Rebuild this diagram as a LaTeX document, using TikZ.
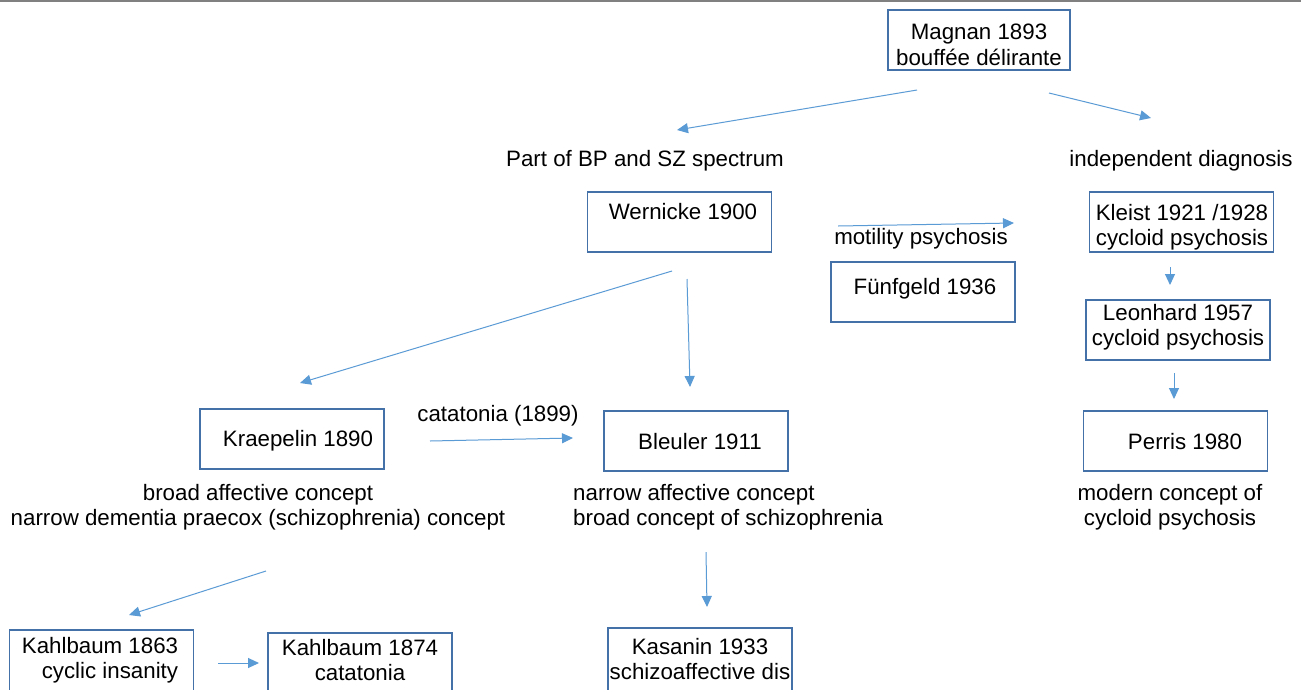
\documentclass[tikz,border=0pt]{standalone}
\usepackage{fontspec}
\setmainfont{Liberation Sans}
\usetikzlibrary{arrows.meta}
\definecolor{boxc}{HTML}{4472A8}
\definecolor{arrc}{HTML}{5B9BD5}
\begin{document}
\begin{tikzpicture}[x=1pt,y=-1pt,
  box/.style={draw=boxc,line width=1.4pt,minimum width=184pt,minimum height=60pt,inner sep=0pt},
  txt/.style={font=\fontsize{22.3}{25.5}\selectfont,inner sep=0pt,align=center},
  arr/.style={draw=arrc,line width=1pt,-{Triangle[length=11pt,width=10pt]}}]
\useasboundingbox (0,0) rectangle (1301,689);
\clip (0,0) rectangle (1301,689);
\fill[white] (0,0) rectangle (1301,689);
\draw[gray,line width=1.2pt] (0,1) -- (1301,1);
% boxes
\node[box,minimum width=182pt] (magnan) at (979,40) {};
\node[box] (wernicke) at (679.5,222) {};
\node[box] (fuenf) at (923,292) {};
\node[box] (kleist) at (1181.5,222) {};
\node[box] (leon) at (1178,330) {};
\node[box] (perris) at (1175.5,441) {};
\node[box] (kraep) at (292,439) {};
\node[box] (bleuler) at (696,441) {};
\node[box,minimum height=80pt] (kahl63) at (101.5,670) {};
\node[box,minimum height=80pt] (kahl74) at (360,673) {};
\node[box,minimum height=80pt] (kasanin) at (700,668) {};
% texts
\node[txt] (tmagnan) at (979,45) {Magnan 1893\\bouff\'ee d\'elirante};
\node[txt] (twern) at (683,212) {Wernicke 1900};
\node[txt] (tfuenf) at (925,289) {F\"unfgeld 1936};
\node[txt] (tkleist) at (1182,227) {Kleist 1921 /1928\\cycloid psychosis};
\node[txt] (tleon) at (1178,327) {Leonhard 1957\\cycloid psychosis};
\node[txt] (tperris) at (1185,442) {Perris 1980};
\node[txt] (tkraep) at (298,441) {Kraepelin 1890};
\node[txt] (tbleu) at (700,442) {Bleuler 1911};
\node[txt,align=right] (tkahl63) at (100,660) {Kahlbaum 1863\\cyclic insanity};
\node[txt] (tkahl74) at (360,660) {Kahlbaum 1874\\catatonia};
\node[txt] (tkas) at (700,659) {Kasanin 1933\\schizoaffective dis};
\node[txt] (part) at (645,161) {Part of BP and SZ spectrum};
\node[txt] (indep) at (1181,161) {independent diagnosis};
\node[txt] (motil) at (921,239) {motility psychosis};
\node[txt] (catat) at (498,416) {catatonia (1899)};
\node[txt] (kraepdesc) at (258,507) {broad affective concept\\narrow dementia praecox (schizophrenia) concept};
\node[txt,align=left,anchor=west] (bleudesc) at (573,507) {narrow affective concept\\broad concept of schizophrenia};
\node[txt] (perdesc) at (1170,507) {modern concept of\\cycloid psychosis};
% arrow endpoints
\coordinate (a1s) at (917,90);  \coordinate (a1e) at (677,130);
\coordinate (a2s) at (1049,93); \coordinate (a2e) at (1151,118);
\coordinate (a3s) at (838,226); \coordinate (a3e) at (1014,223);
\coordinate (a4s) at (1170,267); \coordinate (a4e) at (1170,285);
\coordinate (a5s) at (1174,373); \coordinate (a5e) at (1174,399);
\coordinate (a6s) at (672,271); \coordinate (a6e) at (300,383);
\coordinate (a7s) at (687,279); \coordinate (a7e) at (690,387);
\coordinate (a8s) at (430,441); \coordinate (a8e) at (573,438);
\coordinate (a9s) at (266,571); \coordinate (a9e) at (129,615);
\coordinate (a10s) at (706,552); \coordinate (a10e) at (707,607);
\coordinate (a11s) at (218,663); \coordinate (a11e) at (259,663);
\foreach \i in {1,...,11} \draw[arr] (a\i s) -- (a\i e);
\end{tikzpicture}
\end{document}
